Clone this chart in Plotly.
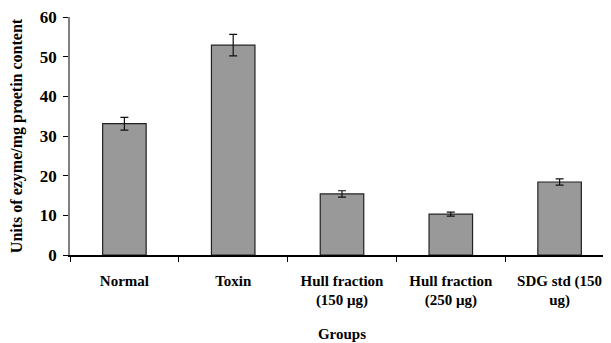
import plotly.graph_objects as go

categories = ["Normal", "Toxin", "Hull fraction<br>(150 μg)", "Hull fraction<br>(250 μg)", "SDG std (150<br>ug)"]
values = [33.1, 52.9, 15.4, 10.3, 18.4]
errors = [1.6, 2.7, 0.8, 0.5, 0.8]
y_ticks = [0, 10, 20, 30, 40, 50, 60]

font_family = "Liberation Serif"

fig = go.Figure()
fig.add_trace(go.Bar(
    x=categories, y=values,
    marker=dict(color="#999999", line=dict(color="#222222", width=1.2)),
    error_y=dict(type="data", array=errors, visible=True, color="#111111", thickness=1.2, width=4),
    width=0.4,
))

fig.update_layout(
    width=611, height=343,
    margin=dict(l=62, r=5, t=9, b=96),
    paper_bgcolor="white", plot_bgcolor="white",
    showlegend=False,
    font=dict(family=font_family, color="black"),
    xaxis=dict(
        automargin=False,
        showline=True, linecolor="black", linewidth=1.5,
        ticks="outside", tickson="boundaries", ticklen=5, tickcolor="black",
        ticklabelstandoff=11,
        tickfont=dict(family=font_family, size=15, color="black", weight="bold"),
        title=dict(text="Groups", font=dict(family=font_family, size=15, weight="bold"), standoff=20),
        showgrid=False,
    ),
    yaxis=dict(
        automargin=False,
        range=[0, 60], tickvals=y_ticks,
        showline=True, linecolor="#808080", linewidth=1.5,
        ticks="outside", ticklen=5, tickcolor="black",
        ticklabelstandoff=3, ticklabeloverflow="allow",
        tickfont=dict(family=font_family, size=17, color="black", weight="bold"),
        title=dict(text="Units of ezyme/mg proetin content", font=dict(family=font_family, size=16, weight="bold"), standoff=31),
        showgrid=False, zeroline=False,
    ),
)

fig.write_html("out.html")
